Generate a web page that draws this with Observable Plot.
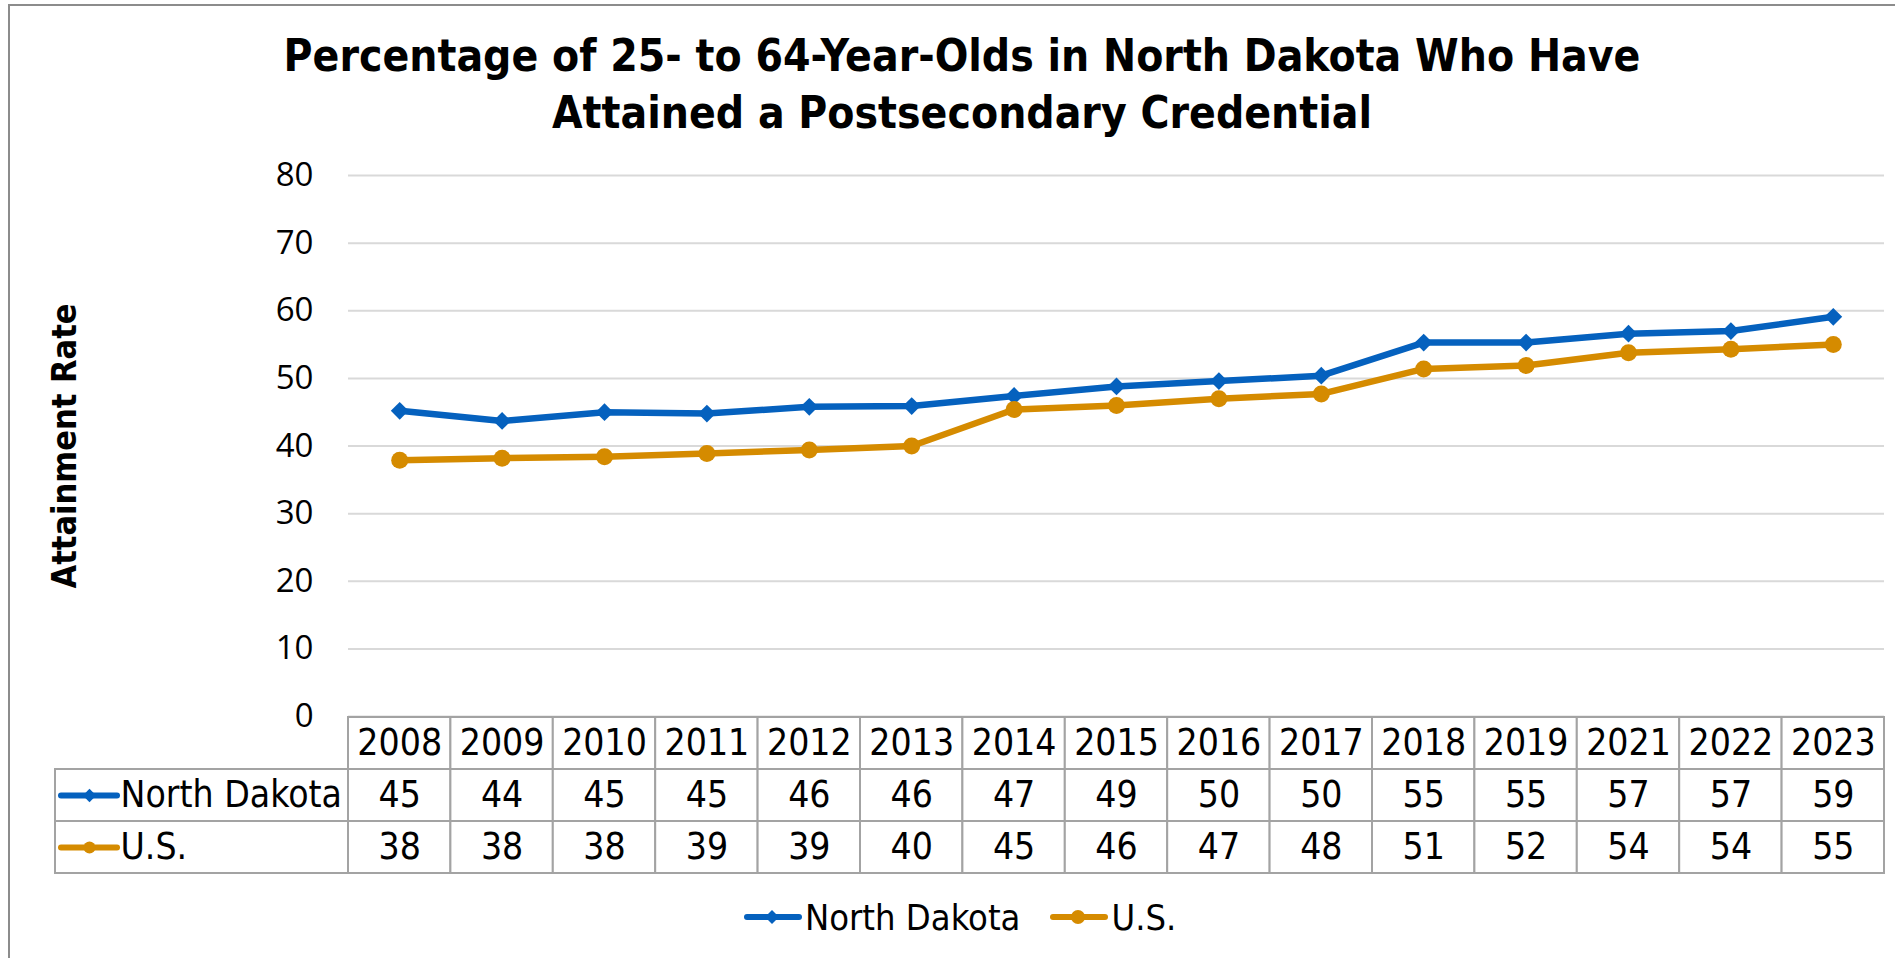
<!DOCTYPE html>
<html>
<head>
<meta charset="utf-8">
<script src="https://cdn.jsdelivr.net/npm/d3@7"></script>
<script src="https://cdn.jsdelivr.net/npm/@observablehq/plot@0.6"></script>
<style>
  html, body { margin: 0; padding: 0; background: #fff; }
  #chart { position: relative; width: 1895px; height: 958px; overflow: hidden; background: #fff; }
  #border { position: absolute; left: 8px; top: 4px; width: 1900px; height: 970px; border: 2px solid #8c8c8c; box-sizing: border-box; }
  #title { position: absolute; left: 30px; width: 1864px; top: 27px; text-align: center;
           font-family: "Liberation Sans Narrow", "DejaVu Sans Condensed", "Liberation Sans", sans-serif;
           font-weight: bold; font-size: 44px; line-height: 57px; color: #000; }
  .abs { position: absolute; left: 0; }
  #legend { position: absolute; left: 744px; top: 893px; height: 48px; display: flex; align-items: center;
            font-family: "Liberation Sans Narrow", "DejaVu Sans Condensed", "Liberation Sans", sans-serif;
            font-size: 36px; color: #000; }
  #legend .item { display: flex; align-items: center; margin-right: 30px; }
  #legend svg { display: block; margin-right: 3px; }
</style>
</head>
<body>
<div id="chart">
  <div id="border"></div>
  <div id="title">Percentage of 25- to 64-Year-Olds in North Dakota Who Have<br>Attained a Postsecondary Credential</div>
  <div id="main" class="abs" style="top:150px"></div>
  <div id="table" class="abs" style="top:714px"></div>
  <div id="legend"></div>
</div>
<script>
// ---- data ----
const years = ["2008","2009","2010","2011","2012","2013","2014","2015","2016","2017","2018","2019","2021","2022","2023"];
const northDakota = [45.2, 43.7, 45.0, 44.8, 45.8, 45.9, 47.4, 48.8, 49.6, 50.4, 55.3, 55.3, 56.6, 57.0, 59.1];
const us = [37.9, 38.2, 38.4, 38.9, 39.4, 40.0, 45.4, 46.0, 47.0, 47.7, 51.4, 51.9, 53.8, 54.3, 55.0];
const northDakotaTable = [45, 44, 45, 45, 46, 46, 47, 49, 50, 50, 55, 55, 57, 57, 59];
const usTable = [38, 38, 38, 39, 39, 40, 45, 46, 47, 48, 51, 52, 54, 54, 55];
const seriesNames = ["North Dakota", "U.S."];
const yTicks = [0, 10, 20, 30, 40, 50, 60, 70, 80];

const colors = {"North Dakota": "#0561BE", "U.S.": "#D58B00"};
const symbols = {"North Dakota": "diamond2", "U.S.": "circle"};
const tableFont = '"Liberation Sans Narrow", "DejaVu Sans Condensed", "Liberation Sans", sans-serif';
const tickFont = '"Open Sans", "Noto Sans", sans-serif';

const series = [
  {name: "North Dakota", values: northDakota, table: northDakotaTable},
  {name: "U.S.", values: us, table: usTable}
];
const points = series.flatMap(s => s.values.map((v, i) => ({name: s.name, i, year: years[i], value: v})));

const W = 1895, ML = 348, MR = 11, TL = 55;
const n = years.length;
const colW = (W - MR - ML) / n;
const hdrW = (ML - TL) / colW;
const px = p => p / colW;

// ---- main line chart ----
const main = Plot.plot({
  width: W, height: 570,
  marginTop: 25, marginBottom: 4, marginLeft: ML, marginRight: MR,
  style: {background: "transparent", overflow: "visible"},
  x: {domain: [0, n], axis: null},
  y: {domain: [0, 80], axis: null},
  marks: [
    Plot.ruleY(yTicks, {stroke: "#d9d9d9", strokeWidth: 2}),
    Plot.axisY({ticks: yTicks, tickSize: 0, tickPadding: 35, fontSize: 33, fontFamily: tickFont, fill: "#000", label: null}),
    Plot.text(["Attainment Rate"], {frameAnchor: "left", textAnchor: "middle", rotate: -90, dx: -283, fontSize: 34, fontWeight: "bold", fontFamily: tableFont, fill: "#000"}),
    ...series.map(s => Plot.line(points.filter(p => p.name === s.name), {x: d => d.i + 0.5, y: "value", stroke: colors[s.name], strokeWidth: 6.5, strokeLinejoin: "round"})),
    ...series.map(s => Plot.dot(points.filter(p => p.name === s.name), {x: d => d.i + 0.5, y: "value", fill: colors[s.name], stroke: "none", symbol: symbols[s.name], r: s.name === "U.S." ? 8.5 : 8}))
  ]
});
document.getElementById("main").appendChild(main);

// ---- data table ----
const rows = ["Year", ...seriesNames];
const cellStroke = "#a3a3a3";
const yearCells = years.map((y, i) => ({row: "Year", i, label: y}));
const dataCells = series.flatMap(s => s.table.map((v, i) => ({row: s.name, i, label: String(v)})));
const allCells = [...yearCells, ...dataCells];

const table = Plot.plot({
  width: W, height: 162,
  marginTop: 2, marginBottom: 2, marginLeft: TL, marginRight: MR,
  style: {background: "transparent", overflow: "visible"},
  x: {domain: [-hdrW, n], axis: null},
  y: {domain: rows, type: "band", padding: 0, axis: null},
  marks: [
    Plot.barX(allCells, {x1: d => d.i, x2: d => d.i + 1, y: "row", fill: "white", stroke: cellStroke, strokeWidth: 2, inset: 0}),
    Plot.barX(seriesNames, {x1: -hdrW, x2: 0, y: d => d, fill: "white", stroke: cellStroke, strokeWidth: 2, inset: 0}),
    Plot.text(allCells, {x: d => d.i + 0.5, y: "row", text: "label", fontSize: 37, fontFamily: tableFont, fill: "#000"}),
    Plot.ruleY(seriesNames, {y: d => d, x1: -hdrW + px(6), x2: -hdrW + px(62), stroke: d => colors[d], strokeWidth: 6, strokeLinecap: "round"}),
    Plot.dot(seriesNames, {y: d => d, x: -hdrW + px(34), fill: d => colors[d], stroke: "none", symbol: d => symbols[d], r: 6}),
    Plot.text(seriesNames, {y: d => d, x: -hdrW + px(65), text: d => d, textAnchor: "start", fontSize: 37, fontFamily: tableFont, fill: "#000"})
  ]
});
document.getElementById("table").appendChild(table);

// ---- legend ----
const legend = document.getElementById("legend");
for (const name of seriesNames) {
  const item = document.createElement("div");
  item.className = "item";
  const sym = symbols[name] === "circle"
    ? `<circle cx="28" cy="12" r="7" fill="${colors[name]}"/>`
    : `<path d="M28,5 L35,12 L28,19 L21,12 Z" fill="${colors[name]}"/>`;
  item.innerHTML = `<svg width="58" height="24"><line x1="3" y1="12" x2="55" y2="12" stroke="${colors[name]}" stroke-width="6" stroke-linecap="round"/>${sym}</svg><span>${name}</span>`;
  legend.appendChild(item);
}
</script>
</body>
</html>
